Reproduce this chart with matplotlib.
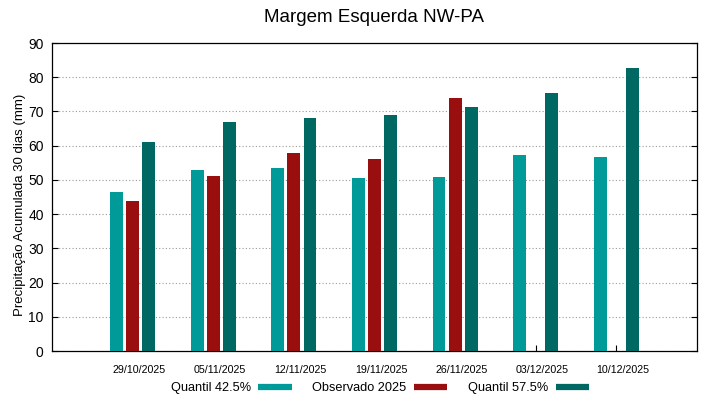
import numpy as np
import matplotlib
matplotlib.use("Agg")
import matplotlib.pyplot as plt
from matplotlib.lines import Line2D

plt.rcParams['font.family'] = ['Liberation Sans', 'DejaVu Sans']

datas = ["29/10/2025", "05/11/2025", "12/11/2025", "19/11/2025",
         "26/11/2025", "03/12/2025", "10/12/2025"]
q425 = [46.4, 53.0, 53.4, 50.6, 50.8, 57.2, 56.7]
obs2025 = [43.9, 51.1, 57.9, 56.2, 73.8, np.nan, np.nan]
q575 = [61.2, 66.8, 68.0, 68.9, 71.2, 75.4, 82.7]

c_q425 = "#009b98"
c_obs = "#990e0e"
c_q575 = "#006863"

fig = plt.figure(figsize=(7.19, 3.99), dpi=100)
ax = fig.add_axes([0.0723, 0.1203, 0.8971, 0.7719])

x = np.arange(len(datas))
w = 0.16
off = 0.2
ax.bar(x - off, q425, w, color=c_q425, zorder=3)
ax.bar(x, obs2025, w, color=c_obs, zorder=3)
ax.bar(x + off, q575, w, color=c_q575, zorder=3)

ax.set_xlim(-1, 7)
ax.set_ylim(0, 90)
ax.set_yticks(np.arange(0, 91, 10))
# ticks at group centres, labels a little to the right (gnuplot style)
ax.set_xticks(x)
ax.set_xticklabels([])
ax.set_xticks(x + 0.08, minor=True)
ax.set_xticklabels(datas, minor=True, fontsize=7.7)
ax.tick_params(axis='x', which='minor', length=0, pad=10)
ax.tick_params(axis='x', which='major', direction='in', length=4)
ax.tick_params(axis='y', direction='in', right=True, labelsize=10, length=4, pad=6)
ax.grid(axis='y', linestyle=(0, (1, 2)), color='#999999', linewidth=0.8, zorder=0)
for s in ax.spines.values():
    s.set_linewidth(0.9)

ax.set_ylabel("Precipitação Acumulada 30 dias (mm)", fontsize=9.5, va='center')
ax.yaxis.set_label_coords(-0.05, 0.475)
ax.set_title("Margem Esquerda NW-PA", fontsize=13.5, pad=15)

handles = [Line2D([0], [0], color=c_q425, lw=4.5, solid_capstyle='butt'),
           Line2D([0], [0], color=c_obs, lw=4.5, solid_capstyle='butt'),
           Line2D([0], [0], color=c_q575, lw=4.5, solid_capstyle='butt')]
labels = ["Quantil 42.5%", "Observado 2025", "Quantil 57.5%"]
fig.legend(handles, labels, loc='center', bbox_to_anchor=(0.528, 0.027),
           ncol=3, frameon=False, markerfirst=False, fontsize=9.2,
           handlelength=2.6, columnspacing=1.6, handletextpad=0.6)

fig.savefig("out.png", dpi=100)
